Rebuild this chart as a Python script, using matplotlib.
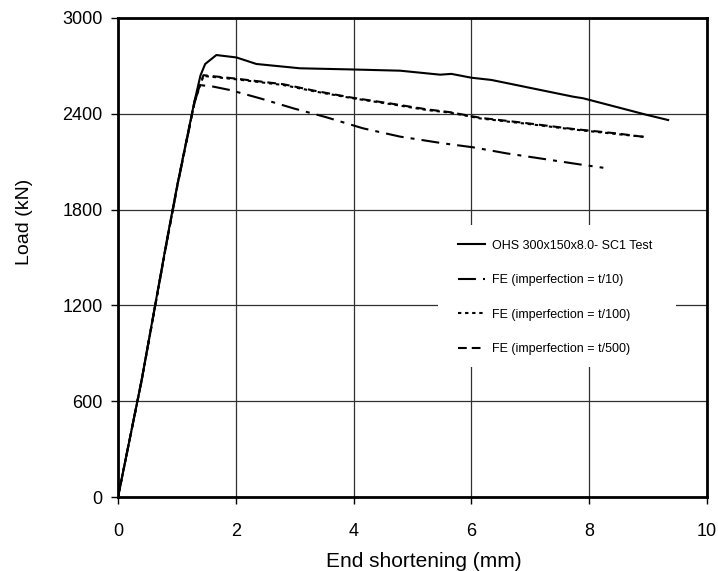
import matplotlib
matplotlib.use("Agg")
import matplotlib.pyplot as plt
from matplotlib.patches import Rectangle

plt.rcParams['font.family'] = ['Liberation Sans', 'DejaVu Sans']

# Test curve
test_x = [0, 0.40, 0.83, 1.01, 1.30, 1.40, 1.48, 1.67, 2.01, 2.35, 3.09, 3.94, 4.79, 5.47, 5.66, 6.00, 6.34, 7.73, 7.90, 8.98, 9.34]
test_y = [0, 730, 1610, 1960, 2480, 2640, 2712, 2768, 2753, 2712, 2685, 2678, 2670, 2645, 2650, 2626, 2612, 2507, 2497, 2393, 2361]

# FE t/10
fe10_x = [0, 0.40, 0.83, 1.01, 1.30, 1.39, 1.62, 1.90, 2.41, 2.98, 3.54, 4.16, 4.79, 5.52, 6.03, 6.60, 7.16, 7.84, 8.24]
fe10_y = [0, 730, 1600, 1950, 2470, 2580, 2570, 2549, 2497, 2434, 2378, 2309, 2257, 2215, 2190, 2152, 2121, 2083, 2062]

# FE t/100
fe100_x = [0, 0.40, 0.83, 1.01, 1.30, 1.45, 2.01, 2.81, 3.37, 3.99, 4.62, 5.24, 5.64, 6.15, 6.88, 7.73, 8.47, 8.95]
fe100_y = [0, 725, 1600, 1955, 2475, 2637, 2616, 2580, 2538, 2497, 2461, 2424, 2407, 2371, 2340, 2302, 2273, 2255]

# FE t/500
fe500_x = [0, 0.40, 0.83, 1.01, 1.30, 1.45, 2.01, 2.81, 3.37, 3.99, 4.62, 5.24, 5.64, 6.15, 6.88, 7.73, 8.47, 9.00]
fe500_y = [0, 728, 1605, 1958, 2480, 2642, 2620, 2585, 2542, 2500, 2465, 2428, 2410, 2375, 2344, 2305, 2277, 2252]

labels = ["OHS 300x150x8.0- SC1 Test", "FE (imperfection = t/10)",
          "FE (imperfection = t/100)", "FE (imperfection = t/500)"]
x_ticks = [0, 2, 4, 6, 8, 10]
y_ticks = [0, 600, 1200, 1800, 2400, 3000]

fig = plt.figure(figsize=(7.18, 5.71), dpi=100)
ax = fig.add_axes([118/718, 1-497/571, (707-118)/718, (497-18)/571])

lw = 1.5
ax.plot(test_x, test_y, color='black', lw=lw, ls='-', label=labels[0], zorder=3)
ax.plot(fe10_x, fe10_y, color='black', lw=lw, ls=(0, (8.6, 3.4, 1.9, 3.4)), label=labels[1], zorder=3)
ax.plot(fe100_x, fe100_y, color='black', lw=lw, ls=(0, (1.6, 1.8)), label=labels[2], zorder=3)
ax.plot(fe500_x, fe500_y, color='black', lw=lw, ls=(0, (4.2, 2.4)), label=labels[3], zorder=3)

ax.set_xlim(0, 10)
ax.set_ylim(0, 3000)
ax.set_xticks(x_ticks)
ax.set_yticks(y_ticks)
ax.set_axisbelow(True)
ax.grid(True, color='#303030', lw=0.9)
for s in ax.spines.values():
    s.set_linewidth(2)
ax.tick_params(direction='out', length=5, width=1, labelsize=13, color='black')
ax.tick_params(axis='x', pad=14)
ax.tick_params(axis='y', pad=6)

ax.set_xlabel("End shortening (mm)", fontsize=15)
ax.xaxis.set_label_coords(0.52, -0.115)
ax.set_ylabel("Load (kN)", fontsize=14)
ax.yaxis.set_label_coords(-0.145, 0.575)

# white legend background that interrupts the grid
ax.add_patch(Rectangle((0.543, 0.271), 0.404, 0.297, transform=ax.transAxes,
                       facecolor='white', edgecolor='none', zorder=1))

leg = ax.legend(loc='upper left', bbox_to_anchor=(0.578, 0.5375), frameon=False,
                fontsize=9, handlelength=2.1, handletextpad=0.55, labelspacing=1.8,
                borderpad=0, borderaxespad=0)
leg.set_zorder(4)

fig.savefig("out.png", dpi=100)
